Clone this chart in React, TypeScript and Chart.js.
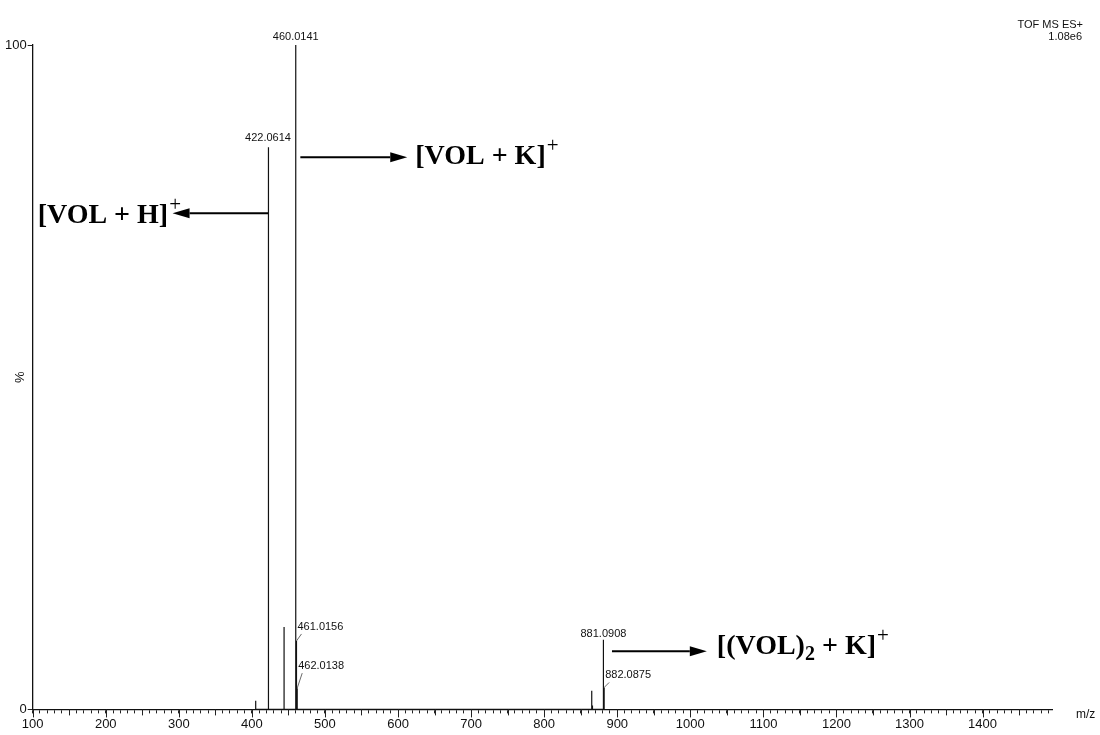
import React, { useEffect, useRef } from 'react';
import { Chart, registerables } from 'chart.js';

Chart.register(...registerables);

// ---- data ----
const peakMz = [405.2, 422.0614, 423.07, 444.04, 460.0141, 461.0156, 462.0138, 865.1, 866.1, 881.0908, 882.0875];
const peakIntensity = [1.3, 84.6, 9.2, 12.4, 100, 10.3, 3.2, 2.8, 0.6, 10.5, 3.3];
const labelledMz = [422.0614, 460.0141, 461.0156, 462.0138, 881.0908, 882.0875];
const labelledText = ['422.0614', '460.0141', '461.0156', '462.0138', '881.0908', '882.0875'];
const xRange = [100, 1495];
const yRange = [0, 100];
const xLabelValues = [100, 200, 300, 400, 500, 600, 700, 800, 900, 1000, 1100, 1200, 1300, 1400];
const headerLines = ['TOF MS ES+', '1.08e6'];

// ---- label/annotation layout (positions kept apart from data) ----
const labelLayout = [
  { mode: 'top', dy: 6 },
  { mode: 'top', dy: 5 },
  { mode: 'lead', dy: 9 },
  { mode: 'lead', dy: 17 },
  { mode: 'top', dy: 3 },
  { mode: 'lead', dy: 7 },
];

const annotations = [
  { from: [422.0614, 74.66], to: [291.4, 74.66], textAt: [106.8, 73.2], main: '[VOL + H]', sub: '', tail: '' },
  { from: [466.3, 83.1], to: [612.6, 83.1], textAt: [623.5, 82.05], main: '[VOL + K]', sub: '', tail: '' },
  { from: [892.8, 8.75], to: [1022.6, 8.75], textAt: [1036.3, 8.3], main: '[(VOL)', sub: '2', tail: ' + K]' },
];

const spectrumPoints = () => {
  const pts: { x: number; y: number }[] = [];
  peakMz.forEach((mz, i) => {
    pts.push({ x: mz, y: 0 });
    pts.push({ x: mz, y: peakIntensity[i] });
    pts.push({ x: mz, y: 0 });
  });
  return pts;
};

const overlayPlugin = {
  id: 'overlay',
  afterDraw(chart: any) {
    const ctx = chart.ctx as CanvasRenderingContext2D;
    const xs = chart.scales.x;
    const ys = chart.scales.y;
    ctx.save();

    // longer tick marks at 50 / 100
    ctx.strokeStyle = '#222';
    ctx.lineWidth = 1;
    const y0 = ys.getPixelForValue(0);
    for (let v = xRange[0]; v <= xRange[1]; v += 50) {
      const px = Math.round(xs.getPixelForValue(v)) + 0.5;
      const len = v % 100 === 0 ? 8 : 6;
      ctx.beginPath();
      ctx.moveTo(px, y0);
      ctx.lineTo(px, y0 + len);
      ctx.stroke();
    }

    // peak labels
    ctx.fillStyle = '#111';
    ctx.font = '11px "Liberation Sans", Arial, sans-serif';
    labelledMz.forEach((mz, i) => {
      const idx = peakMz.indexOf(mz);
      const inten = idx >= 0 ? peakIntensity[idx] : 0;
      const px = xs.getPixelForValue(mz);
      const py = ys.getPixelForValue(inten);
      const lay = labelLayout[i];
      if (lay.mode === 'top') {
        ctx.textAlign = 'center';
        ctx.textBaseline = 'alphabetic';
        ctx.fillText(labelledText[i], px, py - lay.dy);
      } else {
        ctx.strokeStyle = '#444';
        ctx.lineWidth = 0.8;
        ctx.beginPath();
        ctx.moveTo(px, py);
        ctx.lineTo(px + 5, py - lay.dy + 2);
        ctx.stroke();
        ctx.textAlign = 'left';
        ctx.textBaseline = 'alphabetic';
        ctx.fillText(labelledText[i], px + 1, py - lay.dy - 2);
      }
    });

    // arrows + formula annotations
    annotations.forEach((a) => {
      const x1 = xs.getPixelForValue(a.from[0]);
      const yA = ys.getPixelForValue(a.from[1]);
      const x2 = xs.getPixelForValue(a.to[0]);
      const dir = x2 > x1 ? 1 : -1;
      const head = 17;
      ctx.strokeStyle = '#000';
      ctx.fillStyle = '#000';
      ctx.lineWidth = 2;
      ctx.beginPath();
      ctx.moveTo(x1, yA);
      ctx.lineTo(x2 - dir * head, yA);
      ctx.stroke();
      ctx.beginPath();
      ctx.moveTo(x2, yA);
      ctx.lineTo(x2 - dir * head, yA - 5);
      ctx.lineTo(x2 - dir * head, yA + 5);
      ctx.closePath();
      ctx.fill();

      let tx = xs.getPixelForValue(a.textAt[0]);
      const ty = ys.getPixelForValue(a.textAt[1]);
      ctx.textAlign = 'left';
      ctx.textBaseline = 'alphabetic';
      ctx.font = 'bold 28px "Liberation Serif", "Times New Roman", serif';
      ctx.fillText(a.main, tx, ty);
      tx += ctx.measureText(a.main).width;
      if (a.sub) {
        ctx.font = 'bold 20px "Liberation Serif", "Times New Roman", serif';
        ctx.fillText(a.sub, tx, ty + 6);
        tx += ctx.measureText(a.sub).width;
        ctx.font = 'bold 28px "Liberation Serif", "Times New Roman", serif';
        ctx.fillText(a.tail, tx, ty);
        tx += ctx.measureText(a.tail).width;
      }
      ctx.font = '21px "Liberation Serif", "Times New Roman", serif';
      ctx.fillText('+', tx + 1, ty - 12);
    });

    // axis annotations
    ctx.fillStyle = '#111';
    ctx.font = '12px "Liberation Sans", Arial, sans-serif';
    ctx.textAlign = 'left';
    ctx.textBaseline = 'middle';
    ctx.fillText('m/z', xs.right + 24, y0 + 5);

    ctx.save();
    ctx.translate(20, (ys.top + ys.bottom) / 2);
    ctx.rotate(-Math.PI / 2);
    ctx.textAlign = 'center';
    ctx.textBaseline = 'middle';
    ctx.font = '13px "Liberation Sans", Arial, sans-serif';
    ctx.fillText('%', 0, 0);
    ctx.restore();

    ctx.font = '11px "Liberation Sans", Arial, sans-serif';
    ctx.textAlign = 'right';
    ctx.textBaseline = 'alphabetic';
    ctx.fillText(headerLines[0], 1083, 28);
    ctx.fillText(headerLines[1], 1082, 40);

    ctx.restore();
  },
};

export default function App() {
  const canvasRef = useRef<HTMLCanvasElement | null>(null);

  useEffect(() => {
    document.body.style.margin = '0';
    document.body.style.background = '#fff';
    const canvas = canvasRef.current;
    if (!canvas) return;
    const chart = new Chart(canvas, {
      type: 'line',
      data: {
        datasets: [
          {
            data: spectrumPoints(),
            borderColor: '#111',
            borderWidth: 1.2,
            pointRadius: 0,
            tension: 0,
            fill: false,
          },
        ],
      },
      options: {
        responsive: false,
        animation: false,
        parsing: true,
        layout: { padding: { left: 4, right: 48, top: 45, bottom: 0 } },
        plugins: { legend: { display: false }, tooltip: { enabled: false } },
        scales: {
          x: {
            type: 'linear',
            min: xRange[0],
            max: xRange[1],
            border: { display: true, color: '#111', width: 1.3 },
            grid: { display: true, drawOnChartArea: false, tickLength: 4, color: '#222' },
            ticks: {
              stepSize: 10,
              autoSkip: false,
              includeBounds: false,
              maxRotation: 0,
              padding: 3,
              color: '#111',
              font: { family: '"Liberation Sans", Arial, sans-serif', size: 13 },
              callback: (v: any) => (xLabelValues.includes(Number(v)) ? String(v) : ''),
            },
          },
          y: {
            type: 'linear',
            min: yRange[0],
            max: yRange[1],
            border: { display: true, color: '#111', width: 1.3 },
            grid: { display: true, drawOnChartArea: false, tickLength: 5, color: '#222' },
            ticks: {
              stepSize: 100,
              padding: 1,
              color: '#111',
              font: { family: '"Liberation Sans", Arial, sans-serif', size: 13 },
            },
          },
        },
      },
      plugins: [overlayPlugin],
    });
    return () => chart.destroy();
  }, []);

  return (
    <div style={{ width: 1100, height: 735, background: '#fff' }}>
      <canvas ref={canvasRef} width={1100} height={735} />
    </div>
  );
}
